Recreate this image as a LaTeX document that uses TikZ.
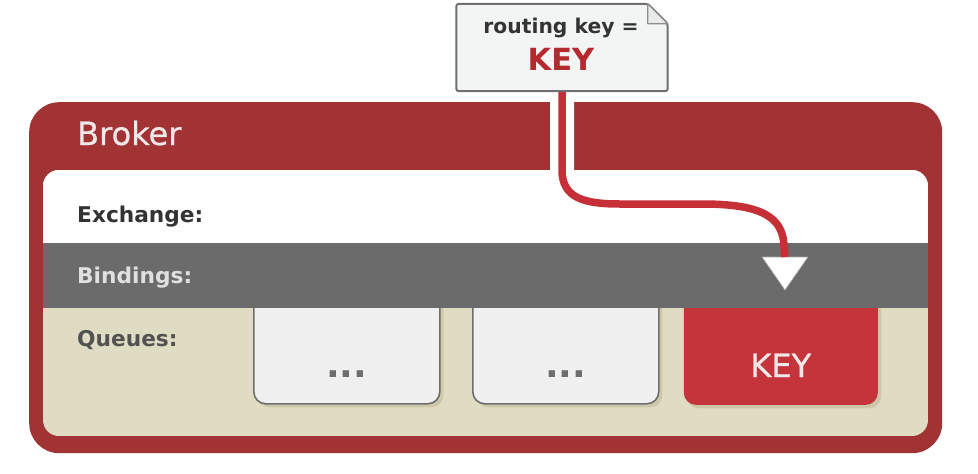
\documentclass[tikz,border=0pt]{standalone}
\usepackage{fontspec}
\setmainfont{DejaVu Sans}
\newfontfamily\medfont[FakeBold=0.7]{DejaVu Sans}
\usetikzlibrary{shadows}
\definecolor{brokerred}{HTML}{A13335}
\definecolor{bandgray}{HTML}{6B6B6B}
\definecolor{qbeige}{HTML}{E0DCC4}
\definecolor{qshadow}{HTML}{CDC7AA}
\definecolor{qfill}{HTML}{F0F0F0}
\definecolor{qborder}{HTML}{6E6E6E}
\definecolor{keyred}{HTML}{C4343A}
\definecolor{linered}{HTML}{C62F36}
\definecolor{notefill}{HTML}{F3F4F4}
\definecolor{noteborder}{HTML}{707070}
\definecolor{notekey}{HTML}{B42A2F}
\definecolor{lightlbl}{HTML}{F0E8E8}
\tikzset{
  txt/.style={inner sep=0pt, anchor=base west},
  lbl/.style={txt, font=\bfseries\fontsize{21.7}{24}\selectfont},
  qboxstyle/.style={inner sep=0pt, anchor=north west, minimum width=186pt, minimum height=113pt,
    fill=qfill, draw=qborder, line width=1.6pt, rounded corners=12pt,
    drop shadow={shadow xshift=3.5pt, shadow yshift=-3.5pt, fill=qshadow, opacity=1}},
  keyboxstyle/.style={qboxstyle, fill=keyred, draw=none},
  dots/.style={inner sep=0pt, anchor=base, text=qborder, font=\bfseries\fontsize{36}{40}\selectfont},
}
\begin{document}
\begin{tikzpicture}[x=1pt,y=-1pt]
\useasboundingbox (0,0) rectangle (978,474);
\fill[white] (0,0) rectangle (978,474);
% broker frame
\node[inner sep=0pt, anchor=north west, fill=brokerred, rounded corners=30pt,
      minimum width=913pt, minimum height=351pt] (broker) at (29,102) {};
\begin{scope}
  \clip[rounded corners=16pt] (43,170) rectangle (928,436);
  \fill[qbeige] (43,170) rectangle (928,436);
  \fill[white] (43,170) rectangle (928,243);
  \node[qboxstyle] (q1) at (253,290) {};
  \node[qboxstyle] (q2) at (472,290) {};
  \node[keyboxstyle, minimum width=194pt, minimum height=114pt] (q3) at (683,290) {};
  \fill[bandgray] (43,243) rectangle (928,308);
\end{scope}
% triangle (binding match)
\coordinate (tritop) at (785,257);
\filldraw[fill=white, draw=black!35, line width=0.6pt, line join=round]
  (762,257) -- (808,257) -- (785,290) -- cycle;
% note
\node[inner sep=0pt, minimum width=211pt, minimum height=87pt] (note) at (562,47.5) {};
% connector casing and line
\draw[white, line width=24pt] (note.south) -- (562,170) .. controls (562,198) and (584,204) .. (620,204);
\draw[linered, line width=7.5pt] (note.south) -- (562,170) .. controls (562,198) and (584,204) .. (620,204)
  -- (702,204) .. controls (760,204) and (784,216) .. (784,248) -- (tritop);
\draw[fill=notefill, draw=noteborder, line width=2pt, rounded corners=2.5pt]
  (note.north west) -- ([xshift=-20pt]note.north east) -- ([yshift=-20pt]note.north east)
  -- (note.south east) -- (note.south west) -- cycle;
\draw[fill=white!85!noteborder, draw=noteborder!80, line width=1.2pt, line join=round]
  ([xshift=-20pt]note.north east) -- ([xshift=-20pt,yshift=-20pt]note.north east) -- ([yshift=-20pt]note.north east) -- cycle;
\node[inner sep=0pt, anchor=base, text=black!80, font=\bfseries\fontsize{20.3}{22}\selectfont] (rk) at (561,33) {routing key =};
\node[inner sep=0pt, anchor=base, text=notekey, font=\bfseries\fontsize{30.5}{32}\selectfont] (rkval) at (561,70) {KEY};
% labels
\node[txt, text=lightlbl, font=\medfont\fontsize{32}{34}\selectfont] (brokerlbl) at (77,145) {Broker};
\node[lbl, text=black!80] (exch) at (77,222) {Exchange:};
\node[lbl, text=black!12] (bind) at (77,283) {Bindings:};
\node[lbl, text=black!68] (queues) at (77,346) {Queues:};
\node[dots] (d1) at (q1.center |- 0,377) {...};
\node[dots] (d2) at (q2.center |- 0,377) {...};
\node[inner sep=0pt, anchor=base, text=lightlbl, font=\medfont\fontsize{32}{35}\selectfont] (keylbl) at (q3.center |- 0,377) {KEY};
\end{tikzpicture}
\end{document}
